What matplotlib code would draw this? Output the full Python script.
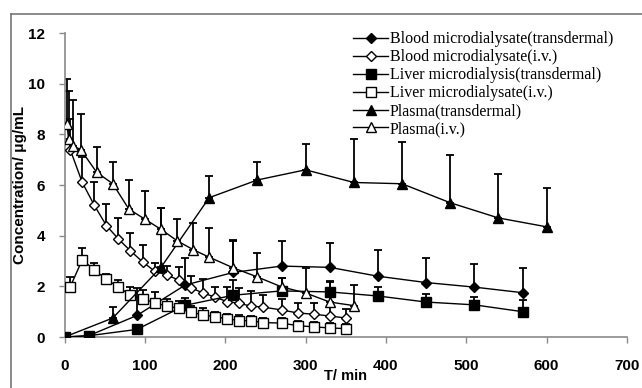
import numpy as np
import matplotlib
matplotlib.use("Agg")
import matplotlib.pyplot as plt
from matplotlib.lines import Line2D

# transdermal groups
t_td = [0, 30, 90, 150, 210, 270, 330, 390, 450, 510, 570]
blood_td = [0, 0.05, 0.85, 2.05, 2.55, 2.8, 2.75, 2.4, 2.15, 1.97, 1.75]
blood_td_err = [0, 0, 1.1, 1.05, 1.25, 1.0, 0.95, 1.05, 0.95, 0.93, 0.97]
liver_td = [0, 0.05, 0.3, 1.25, 1.65, 1.82, 1.78, 1.62, 1.38, 1.27, 1.0]
liver_td_err = [0, 0, 0.1, 0.3, 0.6, 0.5, 0.45, 0.35, 0.3, 0.3, 0.45]

t_plasma_td = [0, 60, 120, 180, 240, 300, 360, 420, 480, 540, 600]
plasma_td = [0, 0.75, 2.75, 5.5, 6.2, 6.6, 6.1, 6.05, 5.3, 4.7, 4.35]
plasma_td_err = [0, 0.45, 2.35, 0.85, 0.7, 1.0, 1.7, 1.65, 1.9, 1.75, 1.55]

# i.v. groups
t_iv = [7, 22, 37, 52, 67, 82, 97, 112, 127, 142, 157, 172, 187, 202, 217,
        232, 247, 270, 290, 310, 330, 350]
blood_iv = [7.4, 6.1, 5.2, 4.4, 3.87, 3.4, 2.97, 2.6, 2.45, 2.25, 1.95, 1.74,
            1.58, 1.4, 1.33, 1.22, 1.18, 1.07, 0.95, 0.9, 0.83, 0.75]
blood_iv_err = [1.2, 1.0, 0.9, 0.85, 0.83, 0.7, 0.67, 0.32, 0.35, 0.5, 0.45,
                0.55, 0.4, 0.58, 0.6, 0.58, 0.47, 0.45, 0.4, 0.45, 0.4, 0.35]
liver_iv = [1.98, 3.05, 2.65, 2.28, 1.97, 1.66, 1.5, 1.36, 1.22, 1.13, 0.98,
            0.88, 0.8, 0.72, 0.65, 0.64, 0.57, 0.55, 0.45, 0.4, 0.36, 0.33]
liver_iv_err = [0.4, 0.45, 0.27, 0.22, 0.3, 0.3, 0.35, 0.4, 0.3, 0.3, 0.25,
                0.25, 0.2, 0.2, 0.2, 0.2, 0.2, 0.2, 0.2, 0.2, 0.2, 0.2]

t_plasma_iv = [3, 5, 10, 20, 40, 60, 80, 100, 120, 140, 160, 180, 210, 240,
               270, 300, 330, 360]
plasma_iv = [8.4, 7.8, 7.55, 7.4, 6.5, 6.05, 5.05, 4.65, 4.25, 3.8, 3.45,
             3.15, 2.73, 2.37, 1.98, 1.74, 1.38, 1.24]
plasma_iv_err = [1.8, 1.9, 1.8, 1.4, 1.0, 0.85, 1.15, 1.1, 0.85, 0.85, 1.05,
                 1.15, 1.1, 0.93, 0.35, 1.0, 0.8, 0.8]

labels = ["Blood microdialysate(transdermal)", "Blood microdialysate(i.v.)",
          "Liver microdialysis(transdermal)", "Liver microdialysate(i.v.)",
          "Plasma(transdermal)", "Plasma(i.v.)"]

fig = plt.figure(figsize=(6.42, 3.88), dpi=100)
ax = fig.add_axes([0.1006, 0.1314, 0.8760, 0.7835])

series = [
    (t_td, blood_td, blood_td_err, "D", "black", 4.8),
    (t_iv, blood_iv, blood_iv_err, "D", "white", 5.2),
    (t_td, liver_td, liver_td_err, "s", "black", 6.5),
    (t_iv, liver_iv, liver_iv_err, "s", "white", 6.5),
    (t_plasma_td, plasma_td, plasma_td_err, "^", "black", 6.5),
    (t_plasma_iv, plasma_iv, plasma_iv_err, "^", "white", 7),
]

handles = []
for (x, y, e, m, fc, ms), lab in zip(series, labels):
    e = np.array(e)
    ax.errorbar(x, y, yerr=[np.zeros_like(e), e], fmt="none", ecolor="black",
                elinewidth=1.3, capsize=3, capthick=1.3, zorder=2)
    h, = ax.plot(x, y, color="black", lw=1.0, marker=m, markersize=ms,
                 markerfacecolor=fc, markeredgecolor="black",
                 markeredgewidth=1.0, label=lab, zorder=3)
    handles.append(h)

ax.set_xlim(0, 700)
ax.set_ylim(0, 12)
ax.set_xticks(range(0, 701, 100))
ax.set_yticks(range(0, 13, 2))
for s in ["top", "right"]:
    ax.spines[s].set_visible(False)
for s in ["left", "bottom"]:
    ax.spines[s].set_color("#8a8a8a")
    ax.spines[s].set_linewidth(1.2)
ax.tick_params(colors="#8a8a8a", length=4, width=1)
for lbl in ax.get_xticklabels() + ax.get_yticklabels():
    lbl.set_color("black")
    lbl.set_fontweight("bold")
    lbl.set_fontsize(11)
    lbl.set_family("Liberation Sans")
ax.tick_params(axis="x", pad=12)
ax.tick_params(axis="y", pad=10)

ax.set_xlabel("T/ min", fontweight="bold", fontsize=10.5,
              family="Liberation Sans", labelpad=-3)
ax.set_ylabel("Concentration/ μg/mL", fontweight="bold", fontsize=11,
              family="Liberation Sans", labelpad=1)

leg = ax.legend(handles=handles, loc="upper left", frameon=False,
                prop={"family": "Liberation Serif", "size": 11.5},
                handlelength=2.2, handletextpad=0.1, labelspacing=0.12,
                bbox_to_anchor=(0.513, 1.005), borderaxespad=0, borderpad=0)

# outer frame of the original figure
fig.add_artist(Line2D([11 / 642, 11 / 642], [0, 1 - 14 / 388],
                      color="#777777", lw=1.2, transform=fig.transFigure))
fig.add_artist(Line2D([11 / 642, 1], [1 - 14 / 388, 1 - 14 / 388],
                      color="#777777", lw=1.2, transform=fig.transFigure))

fig.savefig("out.png", dpi=100)
